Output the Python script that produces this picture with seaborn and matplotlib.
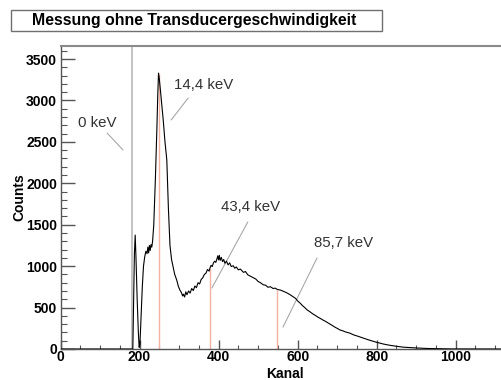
import matplotlib
matplotlib.use("Agg")
import matplotlib.pyplot as plt
from matplotlib.ticker import MultipleLocator
from matplotlib.patches import Rectangle
import seaborn as sns
import pandas as pd

# ---------------- data ----------------
kanal = [0, 180, 183, 185, 187, 189, 191, 194, 197, 199,
         201, 204, 207, 210, 213, 216, 219, 221, 223, 225,
         227, 229, 231, 233, 236, 240, 244, 246, 248, 250,
         252, 256, 260, 264, 269, 273, 277, 281, 285, 289,
         294, 298, 302, 306, 309, 311, 314, 317, 320, 324,
         328, 332, 336, 340, 344, 348, 352, 356, 360, 364,
         368, 372, 376, 378, 381, 384, 387, 390, 393, 396,
         398, 400, 402, 404, 407, 410, 413, 416, 420, 424,
         428, 432, 437, 441, 445, 450, 455, 463, 468, 474,
         480, 488, 494, 500, 506, 513, 519, 525, 531, 538,
         543, 549, 556, 562, 568, 575, 581, 589, 595, 600,
         606, 612, 618, 624, 631, 638, 645, 651, 657, 664,
         670, 676, 682, 689, 695, 701, 707, 714, 720, 727,
         733, 739, 745, 752, 758, 764, 770, 777, 783, 790,
         796, 803, 809, 817, 825, 833, 842, 851, 860, 868,
         877, 885, 893, 902, 910, 920, 930, 940, 950, 962,
         975, 988, 1000, 1015, 1114]
counts = [0, 0, 0, 600, 1150, 1375, 1100, 600, 200, 20,
          60, 400, 750, 1000, 1110, 1180, 1150, 1230, 1160, 1250,
          1190, 1260, 1230, 1300, 1500, 2040, 2680, 3050, 3330, 3260,
          3165, 2960, 2760, 2520, 2280, 1700, 1250, 1080, 993, 900,
          833, 760, 712, 680, 640, 662, 628, 690, 655, 700,
          675, 730, 705, 760, 740, 800, 785, 840, 860, 900,
          915, 960, 940, 975, 1010, 995, 1040, 1060, 1045, 1090,
          1125, 1075, 1130, 1070, 1105, 1055, 1080, 1035, 1060, 1015,
          1040, 995, 1005, 975, 990, 955, 965, 925, 935, 895,
          880, 860, 845, 815, 800, 775, 770, 745, 752, 730,
          735, 718, 712, 700, 688, 672, 655, 630, 610, 580,
          555, 525, 500, 472, 450, 425, 405, 385, 370, 350,
          335, 318, 300, 280, 262, 247, 230, 220, 208, 198,
          190, 176, 165, 155, 145, 134, 125, 114, 105, 95,
          86, 77, 69, 60, 52, 45, 38, 32, 26, 22,
          19, 17, 15, 12, 10, 8, 6, 5, 3, 2,
          2, 1, 1, 0, 0]

null_kanal = [181]                      # grey marker line (0 keV)
peak_kanal = [249, 378, 549]            # red marker lines
peak_counts = [3320, 975, 718]

labels = ["0 keV", "14,4 keV", "43,4 keV", "85,7 keV"]
# label centres and pointer lines (data coordinates)
label_xy = [(92, 2727), (361, 3186), (482, 1714), (715, 1279)]
pointer_from = [(118, 2607), (323, 3029), (474, 1533), (649, 1098)]
pointer_to = [(158, 2402), (280, 2764), (383, 736), (563, 265)]

title = "Messung ohne Transducergeschwindigkeit"
xlabel = "Kanal"
ylabel = "Counts"

# ---------------- figure ----------------
sns.set_theme(style="white")
plt.rcParams["font.family"] = ["Liberation Sans", "DejaVu Sans"]

W, H = 501, 380
fig = plt.figure(figsize=(W / 100, H / 100), dpi=100)
ax_left, ax_right, ax_top, ax_bottom = 60.5, 501, 46, 349
ax = fig.add_axes([ax_left / W, 1 - ax_bottom / H,
                   (ax_right - ax_left) / W, (ax_bottom - ax_top) / H])

df = pd.DataFrame({"Kanal": kanal, "Counts": counts})

# marker lines
for k in null_kanal:
    ax.axvline(k, color="#b8b8b8", lw=1.2, zorder=1)
ax.vlines(peak_kanal, 0, peak_counts, color="#f3b2a4", lw=1.0, zorder=1)

sns.lineplot(data=df, x="Kanal", y="Counts", ax=ax, color="black", lw=0.8,
             zorder=3, estimator=None, sort=False)

ax.set_xlim(0, 1114.6)
ax.set_ylim(0, 3657)

for lab, xy, p0, p1 in zip(labels, label_xy, pointer_from, pointer_to):
    ax.text(xy[0], xy[1], lab, ha="center", va="center", fontsize=10.8,
            color="#333333")
    ax.plot([p0[0], p1[0]], [p0[1], p1[1]], color="#a8a8a8", lw=0.8, zorder=2)

# axes styling
ax.xaxis.set_major_locator(MultipleLocator(200))
ax.xaxis.set_minor_locator(MultipleLocator(50))
ax.yaxis.set_major_locator(MultipleLocator(500))
ax.yaxis.set_minor_locator(MultipleLocator(100))
ax.tick_params(axis="x", which="major", direction="in", length=6.5, width=1.0,
               color="#555555", pad=1, labelsize=10)
ax.tick_params(axis="x", which="minor", direction="in", length=3.2, width=0.8,
               color="#555555")
ax.tick_params(axis="y", which="major", direction="in", length=10.4, width=1.0,
               color="#555555", pad=2.5, labelsize=10)
ax.tick_params(axis="y", which="minor", direction="in", length=4.3, width=0.8,
               color="#555555")
ax.tick_params(bottom=True, left=True, which="both")
for t in ax.get_xticklabels() + ax.get_yticklabels():
    t.set_fontweight("bold")
    t.set_color("black")

ax.spines["right"].set_visible(False)
ax.spines["top"].set_color("#8a8a8a")
ax.spines["top"].set_linewidth(1.5)
for s in ("left", "bottom"):
    ax.spines[s].set_color("#555555")
    ax.spines[s].set_linewidth(1.0)

ax.set_xlabel(xlabel, fontsize=10, fontweight="bold", color="black")
ax.set_ylabel(ylabel, fontsize=10, fontweight="bold", color="black")
ax.xaxis.set_label_coords((285 - ax_left) / (ax_right - ax_left),
                          -(373.5 - ax_bottom) / (ax_bottom - ax_top))
ax.xaxis.label.set_verticalalignment("center")
ax.yaxis.set_label_coords(-(ax_left - 19) / (ax_right - ax_left), 0.5)
ax.yaxis.label.set_verticalalignment("center")

# title box
fig.patches.append(Rectangle((10.7 / W, 1 - 31 / H), (382 - 10.7) / W, 21 / H,
                             transform=fig.transFigure, facecolor="white",
                             edgecolor="#707070", lw=1.0))
fig.text(32 / W, 1 - 20.5 / H, title, ha="left", va="center", fontsize=11.45,
         fontweight="bold", color="black")

fig.savefig("out.png", dpi=100)
